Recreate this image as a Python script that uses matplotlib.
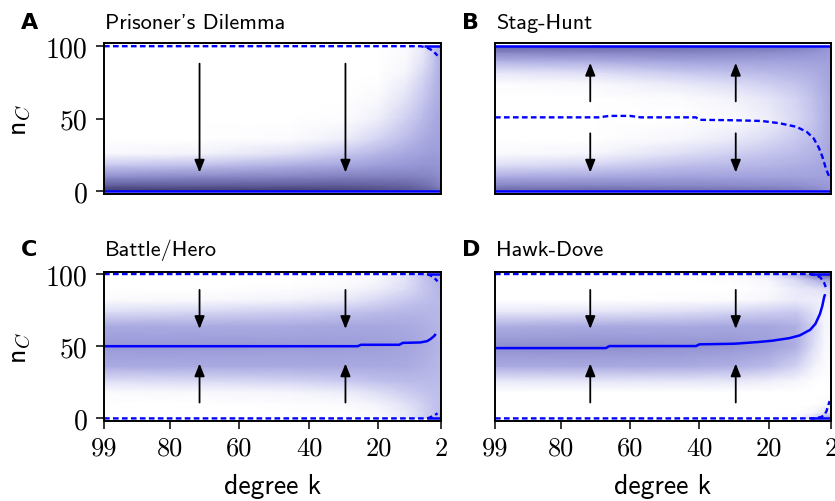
import numpy as np
import matplotlib
matplotlib.use("Agg")
import matplotlib.pyplot as plt
from matplotlib.colors import LinearSegmentedColormap

plt.rcParams['font.family'] = 'cmss10'
plt.rcParams['mathtext.fontset'] = 'cm'
plt.rcParams['axes.unicode_minus'] = False

# grid on which the stationary density is sampled
k_grid = [99, 70, 45, 30, 20, 12, 7, 4, 2]
n_grid = [0, 4, 10, 18, 26, 36, 50, 64, 74, 82, 90, 96, 100]

# density columns, one list per k (values along n_grid)
pd_density = [
    [1.00, .80, .55, .25, .03, 0, 0, 0, 0, 0, 0, 0, 0],
    [1.00, .80, .58, .30, .06, 0, 0, 0, 0, 0, 0, 0, 0],
    [1.00, .80, .60, .38, .15, .02, 0, 0, 0, 0, 0, 0, 0],
    [.95, .80, .62, .42, .25, .08, .01, 0, 0, 0, 0, 0, 0],
    [.90, .78, .62, .47, .35, .20, .08, .03, .01, 0, 0, 0, 0],
    [.85, .75, .62, .50, .42, .32, .22, .14, .09, .05, .03, .02, .02],
    [.80, .70, .60, .52, .46, .40, .33, .26, .22, .18, .14, .12, .12],
    [.75, .65, .58, .52, .48, .44, .40, .36, .33, .30, .28, .28, .30],
    [.70, .60, .55, .50, .47, .45, .43, .41, .40, .40, .40, .42, .45],
]
sh_density = [
    [.75, .60, .40, .15, .02, 0, 0, 0, .01, .12, .38, .60, .75],
    [.75, .60, .42, .20, .05, 0, 0, 0, .03, .16, .40, .60, .75],
    [.72, .58, .45, .30, .15, .04, 0, .02, .10, .25, .45, .60, .72],
    [.70, .57, .45, .33, .22, .10, .02, .06, .16, .30, .45, .58, .70],
    [.68, .56, .45, .35, .27, .17, .08, .12, .22, .33, .45, .56, .68],
    [.65, .55, .45, .38, .32, .25, .18, .20, .28, .36, .45, .55, .65],
    [.60, .52, .45, .40, .36, .32, .28, .30, .34, .39, .45, .52, .60],
    [.55, .50, .45, .42, .40, .38, .36, .37, .40, .42, .46, .50, .55],
    [.50, .48, .46, .44, .43, .42, .42, .42, .43, .44, .46, .48, .50],
]
bh_density = [
    [0, 0, 0, .02, .15, .40, .50, .40, .15, .02, 0, 0, 0],
    [0, 0, 0, .03, .17, .40, .50, .40, .18, .03, 0, 0, 0],
    [0, 0, .01, .05, .20, .41, .49, .41, .22, .06, .01, 0, 0],
    [0, 0, .02, .08, .24, .41, .48, .42, .26, .10, .03, .01, .01],
    [.02, .03, .06, .15, .29, .41, .47, .42, .31, .18, .08, .04, .04],
    [.10, .10, .14, .23, .32, .40, .44, .41, .34, .25, .16, .14, .14],
    [.22, .20, .22, .27, .32, .37, .40, .38, .34, .29, .26, .26, .30],
    [.32, .28, .28, .30, .32, .35, .37, .36, .34, .32, .32, .34, .40],
    [.37, .32, .30, .30, .32, .33, .34, .34, .33, .33, .35, .38, .44],
]
hd_density = [
    [0, 0, 0, 0, .10, .40, .55, .38, .10, 0, 0, 0, 0],
    [0, 0, 0, 0, .12, .41, .55, .40, .12, 0, 0, 0, 0],
    [0, 0, 0, 0, .12, .40, .53, .41, .15, .01, 0, 0, .01],
    [0, 0, 0, 0, .11, .37, .51, .42, .19, .02, 0, .01, .04],
    [0, 0, 0, 0, .08, .32, .47, .42, .22, .05, .02, .05, .12],
    [.03, 0, 0, 0, .04, .20, .38, .38, .24, .09, .10, .18, .35],
    [.18, .04, 0, 0, .01, .06, .15, .20, .14, .08, .14, .34, .65],
    [.42, .12, .02, 0, 0, .02, .04, .05, .05, .06, .17, .42, .82],
    [.52, .16, .03, .01, .01, .02, .03, .04, .05, .08, .20, .46, .82],
]

# fixed points: (k values, n_C values)
pd_stable = [([99, 2], [0, 0]), ([7, 2], [100, 100])]
pd_unstable = [([99, 8, 7, 6, 5, 4, 3], [100, 100, 99.6, 99, 97.8, 96, 93.5])]

sh_stable = [([99, 2], [0, 0]), ([99, 2], [100, 100])]
sh_unstable = [([99, 69, 66, 60, 57, 41, 40, 30, 22, 17, 12, 9, 7, 5.5, 4.5, 3.5, 2.5],
                [51, 51, 52, 52, 51, 51, 49.3, 49, 48.5, 47, 44.5, 41, 36.5, 30, 24, 16, 10])]

bh_stable = [([99, 26, 25, 14, 13, 8, 6, 5, 4, 3.5],
              [50, 50, 51, 51, 52.3, 52.6, 53.5, 55, 57, 58.5]),
             ([6, 2], [100, 100]), ([6, 2], [0, 0])]
bh_unstable = [([99, 6, 5, 4, 3], [100, 100, 99, 97.5, 95]),
               ([99, 6, 5, 4, 3], [0, 0, 0.8, 2, 3.5])]

hd_stable = [([99, 67, 66, 41, 40, 30, 23, 19, 14, 11, 8, 6.5, 5.2, 4.5, 4, 3.7],
              [48.7, 48.7, 50.1, 50.1, 51.3, 51.7, 52.9, 53.8, 55.6, 57.5, 61.4, 65.5, 72.3, 78, 83.8, 86]),
             ([8, 2], [100, 100]), ([8, 2], [0, 0])]
hd_unstable = [([99, 8, 6, 5, 4, 3.5], [100, 100, 99, 97.5, 94, 91]),
               ([99, 7, 5, 4, 3.3, 2.8, 2.4], [0, 0, 0.8, 2, 5, 9, 12])]

# arrows: (k, n_start, n_end)
pd_arrows = [(71.5, 88, 13), (29.5, 88, 13)]
sh_arrows = [(71.5, 62, 88.5), (71.5, 40, 13), (29.5, 62, 88.5), (29.5, 40, 13)]
bh_arrows = [(71.5, 89, 62), (71.5, 11, 38), (29.5, 89, 62), (29.5, 11, 38)]
hd_arrows = bh_arrows

titles = ["Prisoner's Dilemma", "Stag-Hunt", "Battle/Hero", "Hawk-Dove"]
letters = ["A", "B", "C", "D"]
xticks = [99, 80, 60, 40, 20, 2]
yticks = [0, 50, 100]

cmap = LinearSegmentedColormap.from_list(
    "lav", ["#ffffff", "#c8c8f0", "#9898d8", "#6865a4", "#3c3a6c"])

W, H = 835, 502
fig = plt.figure(figsize=(W / 100, H / 100), dpi=100)


def px_axes(x0, x1, y0, y1):
    return fig.add_axes([x0 / W, 1 - y1 / H, (x1 - x0) / W, (y1 - y0) / H])


axes = [
    px_axes(104, 441, 44.3, 195.3),
    px_axes(495, 831, 44.3, 195.3),
    px_axes(104, 441, 273.3, 421.7),
    px_axes(495, 831, 273.3, 421.7),
]
ylims = [(-2, 102), (-2, 102), (-1.6, 101.2), (-1.6, 101.2)]
densities = [pd_density, sh_density, bh_density, hd_density]
stables = [pd_stable, sh_stable, bh_stable, hd_stable]
unstables = [pd_unstable, sh_unstable, bh_unstable, hd_unstable]
arrows = [pd_arrows, sh_arrows, bh_arrows, hd_arrows]

K, N = np.meshgrid(k_grid, n_grid)

for i, ax in enumerate(axes):
    Z = np.array(densities[i]).T
    ax.pcolormesh(K, N, Z, shading='gouraud', cmap=cmap, vmin=0, vmax=1,
                  rasterized=True)

    for ks, ns in stables[i]:
        ax.plot(ks, ns, color='#0000ff', lw=1.8, solid_capstyle='butt')
    for ks, ns in unstables[i]:
        ax.plot(ks, ns, color='#0000ff', lw=1.7, linestyle=(0, (2.4, 1.4)))

    for k, n0, n1 in arrows[i]:
        ax.annotate('', xy=(k, n1), xytext=(k, n0),
                    arrowprops=dict(arrowstyle='-|>,head_length=0.5,head_width=0.2',
                                    color='k', lw=1.3, mutation_scale=15,
                                    shrinkA=0, shrinkB=0))

    ax.set_xlim(99, 2)
    ax.set_ylim(*ylims[i])
    for sp in ax.spines.values():
        sp.set_linewidth(1.4)
        sp.set_zorder(5)

    ax.tick_params(direction='out', length=6, width=1.1, labelsize=19)
    if i < 2:
        ax.tick_params(axis='x', bottom=False, labelbottom=False)
    else:
        ax.set_xticks(xticks)
        ax.set_xticklabels([str(t) for t in xticks], fontfamily='cmr10')
        ax.tick_params(axis='x', pad=5)
        ax.set_xlabel('degree k', fontsize=20)
        ax.xaxis.set_label_coords(0.5, -0.35)
    if i % 2 == 1:
        ax.tick_params(axis='y', left=False, labelleft=False)
    else:
        ax.set_yticks(yticks)
        ax.set_yticklabels([str(t) for t in yticks], fontfamily='cmr10')
        ax.tick_params(axis='y', labelsize=20, pad=6)
        ax.set_ylabel(r'n$_C$', fontsize=20)
        ax.yaxis.set_label_coords(-0.21, 0.5)

    x_left = 104 if i % 2 == 0 else 495
    y_base = 29.3 if i < 2 else 256
    fig.text((x_left + 1) / W, 1 - y_base / H, titles[i], fontsize=16,
             ha='left', va='baseline')
    lx = 21 if i % 2 == 0 else 462
    fig.text(lx / W, 1 - y_base / H, letters[i], fontsize=16,
             fontfamily='DejaVu Sans', fontweight='bold', ha='left', va='baseline')

fig.savefig('out.png', dpi=100)
